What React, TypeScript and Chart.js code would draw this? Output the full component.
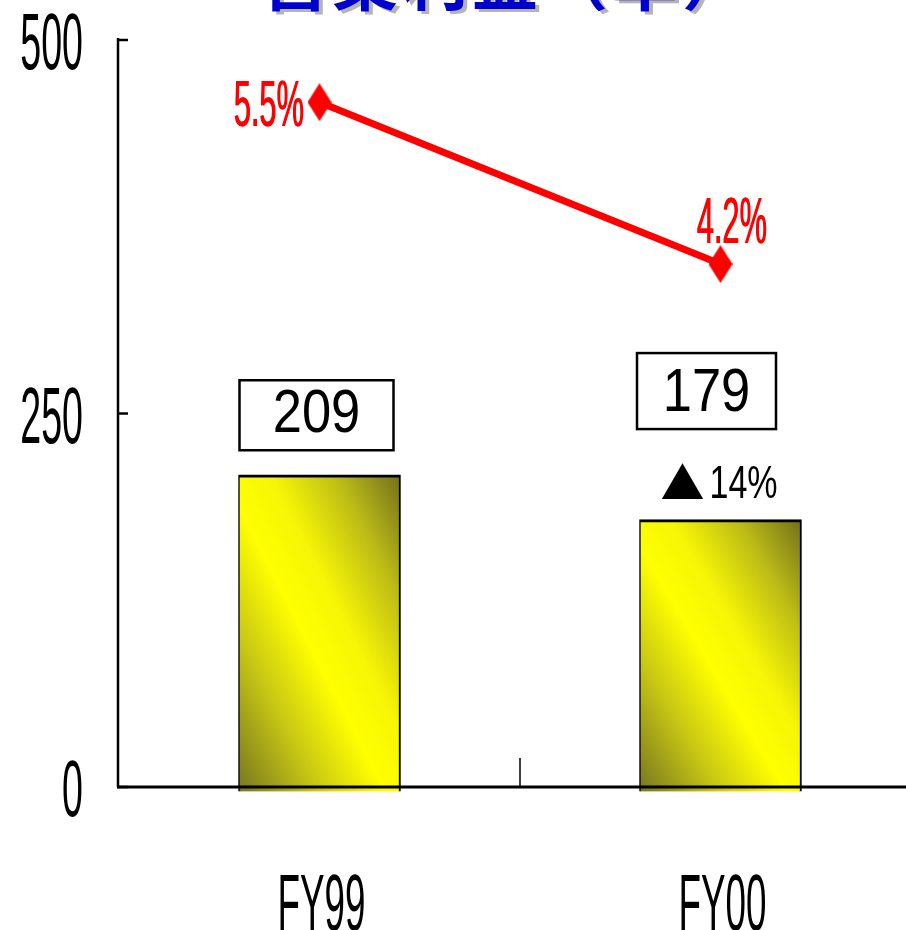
import React, { useEffect, useRef } from "react";
import { Chart, registerables } from "chart.js";

Chart.register(...registerables);

const titleChars = ["営", "業", "利", "益", "（", "単", "）"];
const categories = ["FY99", "FY00"];
const operatingProfit = [209, 179];
const marginPct = [5.5, 4.2];
const marginLabels = ["5.5%", "4.2%"];
const changeLabels = ["", "14%"];
const changeMark = ["", "▲"];
const yTicks = [0, 250, 500];

const W = 922;
const H = 930;

function makeDiamond(): HTMLCanvasElement {
  const c = document.createElement("canvas");
  c.width = 24;
  c.height = 38;
  const g = c.getContext("2d")!;
  g.fillStyle = "#ff0000";
  g.beginPath();
  g.moveTo(12, 0);
  g.lineTo(24, 19);
  g.lineTo(12, 38);
  g.lineTo(0, 19);
  g.closePath();
  g.fill();
  return c;
}

function txt(
  ctx: CanvasRenderingContext2D,
  s: string,
  x: number,
  y: number,
  font: string,
  sx: number,
  align: CanvasTextAlign,
  color: string
) {
  ctx.save();
  ctx.translate(x, y);
  ctx.scale(sx, 1);
  ctx.font = font;
  ctx.textAlign = align;
  ctx.textBaseline = "alphabetic";
  ctx.fillStyle = color;
  ctx.fillText(s, 0, 0);
  ctx.restore();
}

const overlay = {
  id: "overlay",
  afterDatasetsDraw(chart: any) {
    const ctx: CanvasRenderingContext2D = chart.ctx;
    const xs = chart.scales.x;
    const ys = chart.scales.y;
    const y2 = chart.scales.y2;
    const area = chart.chartArea;
    const y0 = ys.getPixelForValue(0);
    const yTop = ys.getPixelForValue(500);

    ctx.save();
    ctx.strokeStyle = "#000";
    ctx.lineWidth = 2.5;
    ctx.beginPath();
    ctx.moveTo(area.left - 1, yTop - 2);
    ctx.lineTo(area.left - 1, y0);
    ctx.stroke();
    yTicks.forEach((v) => {
      const p = ys.getPixelForValue(v);
      ctx.beginPath();
      ctx.moveTo(area.left - 2, p);
      ctx.lineTo(area.left + 9, p);
      ctx.stroke();
    });
    ctx.lineWidth = 3;
    ctx.beginPath();
    ctx.moveTo(area.left - 2, y0);
    ctx.lineTo(area.right + 5, y0);
    ctx.stroke();
    const sep = (xs.getPixelForValue(0) + xs.getPixelForValue(1)) / 2;
    ctx.lineWidth = 1.5;
    ctx.beginPath();
    ctx.moveTo(sep, y0 - 29);
    ctx.lineTo(sep, y0);
    ctx.stroke();
    ctx.restore();

    const cond = '80px "Liberation Sans", Arial, sans-serif';
    yTicks.forEach((v) => {
      const p = ys.getPixelForValue(v);
      txt(ctx, String(v), 83, p + 29, cond, 0.47, "right", "#000");
    });
    categories.forEach((c, i) => {
      const p = xs.getPixelForValue(i);
      txt(ctx, c, p + 2, 930, cond, 0.46, "center", "#000");
    });

    const mFont = '64px "Liberation Sans", Arial, sans-serif';
    marginPct.forEach((v, i) => {
      const px = xs.getPixelForValue(i);
      const py = y2.getPixelForValue(v);
      if (i === 0) {
        txt(ctx, marginLabels[i], px - 16, py + 24, mFont, 0.48, "right", "#ff0000");
        txt(ctx, marginLabels[i], px - 15.3, py + 24, mFont, 0.48, "right", "#ff0000");
      } else {
        txt(ctx, marginLabels[i], px + 11, py - 21, mFont, 0.48, "center", "#ff0000");
        txt(ctx, marginLabels[i], px + 11.7, py - 21, mFont, 0.48, "center", "#ff0000");
      }
    });

    const boxOff = [
      { l: -80, r: 74, t: -94.5, b: -24.5 },
      { l: -83.5, r: 55.5, t: -166.5, b: -90.5 },
    ];
    operatingProfit.forEach((v, i) => {
      const cx = xs.getPixelForValue(i);
      const top = ys.getPixelForValue(v);
      const o = boxOff[i];
      const l = cx + o.l, r = cx + o.r, t = top + o.t, b = top + o.b;
      ctx.save();
      ctx.fillStyle = "#fff";
      ctx.fillRect(l, t, r - l, b - t);
      ctx.strokeStyle = "#000";
      ctx.lineWidth = 2.5;
      ctx.strokeRect(l, t, r - l, b - t);
      ctx.restore();
      txt(ctx, String(v), (l + r) / 2, b - 18, '61px "Liberation Sans", Arial, sans-serif', 0.86, "center", "#000");

      if (changeLabels[i]) {
        const base = top - 22;
        txt(ctx, changeMark[i], cx - 38, base + 2, '44px "Noto Sans CJK JP", sans-serif', 1, "center", "#000");
        txt(ctx, changeLabels[i], cx - 11, base, '46px "Liberation Sans", Arial, sans-serif', 0.74, "left", "#000");
      }
    });
  },
  afterDraw(chart: any) {
    const ctx: CanvasRenderingContext2D = chart.ctx;
    ctx.save();
    ctx.font = 'bold 66px "Noto Sans CJK JP", sans-serif';
    ctx.textAlign = "center";
    ctx.textBaseline = "ideographic";
    titleChars.forEach((ch, i) => {
      const x = 295 + 70 * i;
      ctx.fillStyle = "#b4b4b4";
      ctx.fillText(ch, x + 4, 16);
    });
    titleChars.forEach((ch, i) => {
      const x = 295 + 70 * i;
      ctx.fillStyle = "#0000cc";
      ctx.fillText(ch, x, 13);
    });
    ctx.restore();
  },
};

export default function App() {
  const ref = useRef<HTMLCanvasElement | null>(null);
  useEffect(() => {
    const canvas = ref.current!;
    const diamond = makeDiamond();
    const barFill = (c: any) => {
      const chart = c.chart;
      const xs = chart.scales.x;
      const ys = chart.scales.y;
      if (!chart.chartArea || !xs || !ys || c.dataIndex === undefined) return "#ffff00";
      const w = 162;
      const cx = xs.getPixelForValue(c.dataIndex);
      const top = ys.getPixelForValue(operatingProfit[c.dataIndex]);
      const bot = ys.getPixelForValue(0) + 4;
      const h = bot - top;
      const cy = (top + bot) / 2;
      const n = Math.hypot(w, h);
      const ux = h / n, uy = -w / n;
      const e = (w / 2) * Math.abs(ux) + (h / 2) * Math.abs(uy);
      const g = chart.ctx.createLinearGradient(cx - e * ux, cy - e * uy, cx + e * ux, cy + e * uy);
      g.addColorStop(0, "#77761f");
      g.addColorStop(0.25, "#c9c814");
      g.addColorStop(0.45, "#ffff00");
      g.addColorStop(0.6, "#f6f505");
      g.addColorStop(0.8, "#bdbc16");
      g.addColorStop(1, "#716f1c");
      return g;
    };
    const chart = new Chart(canvas, {
      type: "bar",
      data: {
        labels: categories,
        datasets: [
          {
            type: "line",
            data: marginPct,
            yAxisID: "y2",
            borderColor: "#ff0000",
            backgroundColor: "#ff0000",
            borderWidth: 7,
            pointStyle: diamond as any,
            pointRadius: 12,
            order: 0,
          } as any,
          {
            type: "bar",
            data: operatingProfit,
            yAxisID: "y",
            backgroundColor: barFill,
            borderColor: "#000",
            borderWidth: { top: 3, right: 2, left: 1.5, bottom: 0 },
            barThickness: 162,
            base: -3,
            clip: false,
            order: 1,
          } as any,
        ],
      },
      options: {
        animation: false,
        responsive: false,
        devicePixelRatio: 1,
        layout: { autoPadding: false, padding: { left: 119, right: W - 921, top: 40, bottom: H - 787 } },
        plugins: { legend: { display: false }, tooltip: { enabled: false } },
        scales: {
          x: { display: false, offset: true },
          y: { display: false, min: 0, max: 500 },
          y2: { display: false, min: 0, max: 6, position: "right" },
        },
      },
      plugins: [overlay],
    });
    return () => chart.destroy();
  }, []);
  return (
    <div style={{ position: "fixed", left: 0, top: 0, width: 906, height: 930, overflow: "hidden", background: "#fff" }}>
      <div style={{ width: W, height: H }}>
        <canvas ref={ref} width={W} height={H} style={{ width: W, height: H, display: "block" }} />
      </div>
    </div>
  );
}
